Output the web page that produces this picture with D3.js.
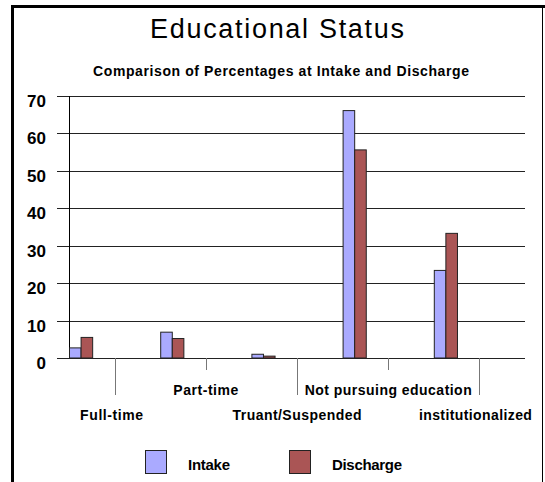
<!DOCTYPE html>
<html>
<head>
<meta charset="utf-8">
<script src="https://cdn.jsdelivr.net/npm/d3@7"></script>
<style>
  html, body { margin: 0; padding: 0; background: #fff; }
  svg { display: block; font-family: "Liberation Sans", Arial, sans-serif; }
</style>
</head>
<body>
<svg id="chart" width="545" height="482"></svg>
<script>
const categories = ["Full-time", "Part-time", "Truant/Suspended", "Not pursuing education", "institutionalized"];
const intake = [2.7, 6.9, 1.0, 66.1, 23.4];
const discharge = [5.5, 5.2, 0.5, 55.6, 33.3];
const seriesNames = ["Intake", "Discharge"];
const yTicks = [0, 10, 20, 30, 40, 50, 60, 70];
const title = "Educational Status";
const subtitle = "Comparison of Percentages at Intake and Discharge";

const colors = ["#aaaaff", "#aa5555"];
const svg = d3.select("#chart");

// frame
svg.append("line").attr("x1", 12.5).attr("x2", 12.5).attr("y1", 5).attr("y2", 482)
  .attr("stroke", "#000").attr("stroke-width", 3);
svg.append("line").attr("x1", 11).attr("x2", 545).attr("y1", 6.5).attr("y2", 6.5)
  .attr("stroke", "#000").attr("stroke-width", 3);
svg.append("line").attr("x1", 542.5).attr("x2", 542.5).attr("y1", 6).attr("y2", 482)
  .attr("stroke", "#000").attr("stroke-width", 1);

// title
svg.append("text").attr("x", 277).attr("y", 38).attr("text-anchor", "middle")
  .attr("font-size", 27).attr("textLength", 254).attr("lengthAdjust", "spacing")
  .text(title);
svg.append("text").attr("x", 281).attr("y", 76).attr("text-anchor", "middle")
  .attr("font-size", 14).attr("font-weight", "bold").attr("textLength", 376).attr("lengthAdjust", "spacing")
  .text(subtitle);

const x = d3.scaleBand().domain(categories).range([69, 525]).padding(0);
const y = d3.scaleLinear().domain([0, 70]).range([358, 96]);
const bw = x.bandwidth() * 0.127;

// gridlines
svg.append("g").selectAll("line").data(yTicks).join("line")
  .attr("x1", 57).attr("x2", 525)
  .attr("y1", d => Math.round(y(d)) + 0.5).attr("y2", d => Math.round(y(d)) + 0.5)
  .attr("stroke", "#222").attr("stroke-width", 1);

// y axis line
svg.append("line").attr("x1", 69.5).attr("x2", 69.5).attr("y1", y(70)).attr("y2", y(0))
  .attr("stroke", "#000").attr("stroke-width", 1);

// y labels
svg.append("g").selectAll("text").data(yTicks).join("text")
  .attr("x", 46).attr("y", d => y(d) + 11).attr("text-anchor", "end")
  .attr("font-size", 17).attr("font-weight", "bold")
  .text(d => d);

// category ticks
const tickLen = [37, 12, 37, 12, 37];
svg.append("g").selectAll("line").data(categories).join("line")
  .attr("x1", d => Math.round(x(d) + x.bandwidth() / 2) + 0.5)
  .attr("x2", d => Math.round(x(d) + x.bandwidth() / 2) + 0.5)
  .attr("y1", y(0)).attr("y2", (d, i) => y(0) + tickLen[i])
  .attr("stroke", "#777").attr("stroke-width", 1);

// category labels
const labelLen = [63, 65, 129, 167, 113];
svg.append("g").selectAll("text").data(categories).join("text")
  .attr("x", (d, i) => x(d) + x.bandwidth() / 2 - (i === 0 ? 3 : 0) - (i === 4 ? 4 : 0))
  .attr("y", (d, i) => i % 2 === 0 ? 420 : 395)
  .attr("text-anchor", "middle").attr("font-size", 14).attr("font-weight", "bold")
  .attr("textLength", (d, i) => labelLen[i]).attr("lengthAdjust", "spacing")
  .text(d => d);

// bars
const barData = [];
categories.forEach((c, i) => {
  barData.push({ c, s: 0, v: intake[i] });
  barData.push({ c, s: 1, v: discharge[i] });
});
svg.append("g").selectAll("rect").data(barData).join("rect")
  .attr("x", d => x(d.c) + d.s * bw + 0.5)
  .attr("y", d => y(d.v))
  .attr("width", bw)
  .attr("height", d => y(0) - y(d.v))
  .attr("fill", d => colors[d.s])
  .attr("stroke", "#222").attr("stroke-width", 1);

// legend
const legX = [145.5, 289.5];
const legTX = [188, 332];
const legLen = [42, 70];
seriesNames.forEach((s, i) => {
  svg.append("rect").attr("x", legX[i]).attr("y", 450.5).attr("width", 21).attr("height", 23)
    .attr("fill", colors[i]).attr("stroke", "#222").attr("stroke-width", 1);
  svg.append("text").attr("x", legTX[i]).attr("y", 470)
    .attr("font-size", 15).attr("font-weight", "bold")
    .attr("textLength", legLen[i]).attr("lengthAdjust", "spacing")
    .text(s);
});
</script>
</body>
</html>
